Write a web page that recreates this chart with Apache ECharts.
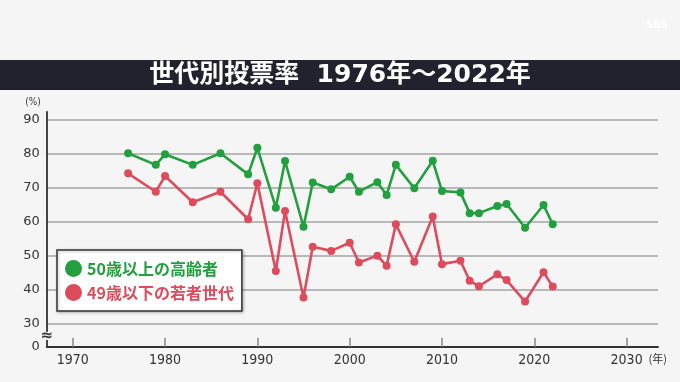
<!DOCTYPE html>
<html>
<head>
<meta charset="utf-8">
<script src="https://cdn.jsdelivr.net/npm/echarts@6/dist/echarts.min.js"></script>
<style>
html,body{margin:0;padding:0;background:#f5f5f5;}
#c{width:680px;height:382px;}
</style>
</head>
<body>
<div id="c"></div>
<script>
const titleText = '世代別投票率  1976年〜2022年';
const seriesNames = ['50歳以上の高齢者', '49歳以下の若者世代'];
const years = [1976,1979,1980,1983,1986,1989,1990,1992,1993,1995,1996,1998,2000,2001,2003,2004,2005,2007,2009,2010,2012,2013,2014,2016,2017,2019,2021,2022];
const olderTurnout = [80.0,76.6,79.7,76.6,80.0,73.8,81.6,64.0,77.7,58.4,71.4,69.4,73.1,68.7,71.5,67.7,76.6,69.7,77.8,68.9,68.5,62.4,62.4,64.5,65.1,58.1,64.8,59.1];
const youngerTurnout = [74.1,68.7,73.3,65.6,68.7,60.6,71.2,45.4,63.0,37.6,52.5,51.3,53.7,47.9,49.9,46.9,59.1,48.1,61.4,47.4,48.4,42.5,40.9,44.4,42.7,36.4,45.0,40.8];
const xTicks = [1970,1980,1990,2000,2010,2020,2030];
const yTicks = [30,40,50,60,70,80,90];

const GREEN = '#22a03f', RED = '#dc4c5c';
const Y_MIN = 23.12, Y_MAX = 92.2;
const yTickValues = [Y_MIN].concat(yTicks);

const chart = echarts.init(document.getElementById('c'), null, {renderer:'canvas'});
const baseGraphic = [
  {type:'rect', z:-1, left:0, top:60, shape:{width:680, height:30}, style:{fill:'#22222e'}},
  {type:'text', right:12, top:20, style:{text:'SBS', fill:'rgba(255,255,255,0.95)', font:'bold 11px "DejaVu Sans Condensed",sans-serif'}}
];
const option = {
  animation:false,
  backgroundColor:'#f5f5f5',
  title:{
    text:titleText, left:'center', top:61, padding:0,
    textStyle:{color:'#ffffff', fontSize:25, fontWeight:'bold', lineHeight:28,
      fontFamily:'"DejaVu Sans","Noto Sans CJK JP",sans-serif'}
  },
  graphic:baseGraphic,
  grid:{left:46.7, right:22, top:111.8, bottom:35.3},
  legend:{
    orient:'vertical', left:57, top:250,
    icon:'circle', itemWidth:17, itemHeight:17, itemGap:7,
    padding:[10,8,10,8],
    backgroundColor:'#ffffff', borderColor:'#333333', borderWidth:1.5,
    shadowColor:'rgba(0,0,0,0.25)', shadowBlur:3, shadowOffsetX:1, shadowOffsetY:1,
    textStyle:{fontSize:16, fontWeight:'bold', fontFamily:'"Noto Sans CJK JP",sans-serif'},
    data:[
      {name:seriesNames[0], textStyle:{color:GREEN}},
      {name:seriesNames[1], textStyle:{color:RED}}
    ]
  },
  xAxis:{
    type:'value', min:1967.18, max:2033.4,
    name:'(年)', nameLocation:'end', nameGap:-15,
    nameTextStyle:{color:'#333', fontSize:11, verticalAlign:'top', padding:[7,0,0,0],
      fontFamily:'"Noto Sans CJK JP",sans-serif'},
    axisLine:{show:true, lineStyle:{color:'#333333', width:1.8}},
    axisTick:{show:true, inside:true, length:9, customValues:xTicks, lineStyle:{color:'#888888', width:1.5}},
    axisLabel:{customValues:xTicks, margin:7, color:'#333333', fontSize:14,
      fontFamily:'"Liberation Sans Narrow","DejaVu Sans Condensed",sans-serif',
      formatter:function(v){ return String(Math.round(v)); }},
    splitLine:{show:false}
  },
  yAxis:{
    type:'value', min:Y_MIN, max:Y_MAX,
    name:'(%)', nameLocation:'end', nameGap:4,
    nameTextStyle:{color:'#333', fontSize:10, align:'right', padding:[0,6,0,0],
      fontFamily:'"DejaVu Sans Condensed",sans-serif'},
    axisLine:{show:true, lineStyle:{color:'#333333', width:1.8}},
    axisTick:{show:false, customValues:yTickValues},
    axisLabel:{customValues:yTickValues, margin:7, color:'#333333', fontSize:13,
      fontFamily:'"DejaVu Sans",sans-serif',
      formatter:function(v){ return v < 29 ? '0' : String(Math.round(v)); }},
    splitLine:{show:true, lineStyle:{color:'#a3a3a3', width:1.5}}
  },
  series:[
    {name:seriesNames[0], type:'line', data:years.map((y,i)=>[y, olderTurnout[i]]),
      color:GREEN, symbol:'circle', symbolSize:8, lineStyle:{width:2.6}, z:3},
    {name:seriesNames[1], type:'line', data:years.map((y,i)=>[y, youngerTurnout[i]]),
      color:RED, symbol:'circle', symbolSize:8, lineStyle:{width:2.6}, z:3}
  ]
};
chart.setOption(option);
// axis break sign on the y axis
const bx = chart.convertToPixel({xAxisIndex:0}, 1967.18);
const by = chart.convertToPixel({yAxisIndex:0}, 26.3);
chart.setOption({graphic:baseGraphic.concat([
  {type:'rect', z:10, x:bx-3, y:by-4, shape:{width:6, height:8}, style:{fill:'#f5f5f5'}},
  {type:'text', z:11, x:bx, y:by, style:{text:'≈', fill:'#333', font:'bold 15px "DejaVu Sans",sans-serif', align:'center', verticalAlign:'middle'}}
])});
</script>
</body>
</html>
